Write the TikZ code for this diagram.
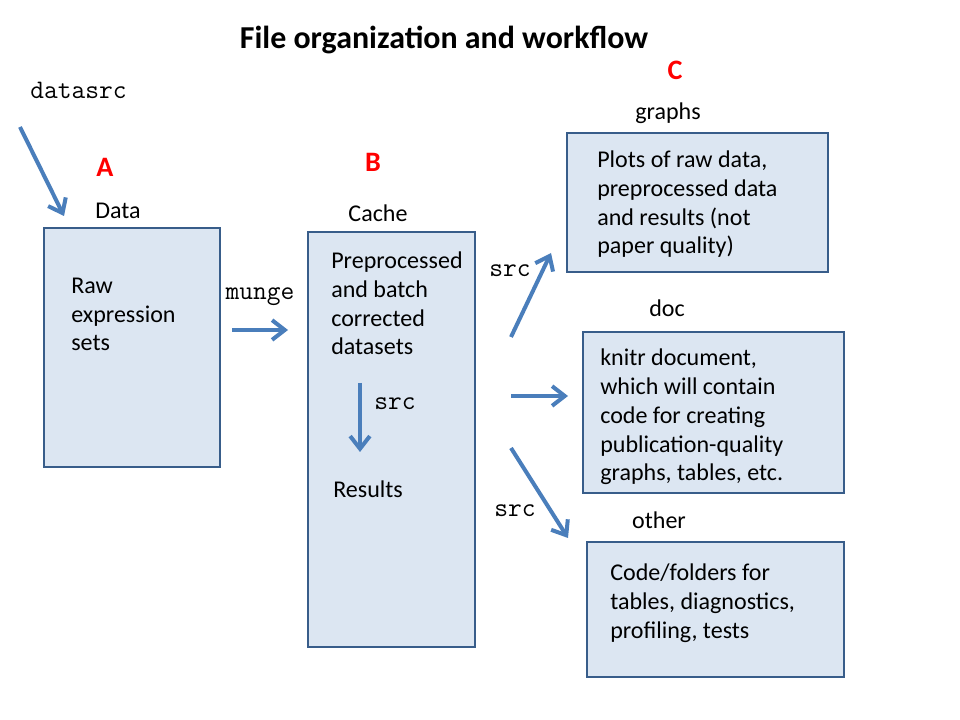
\documentclass[tikz,border=0pt]{standalone}
\usepackage{fontspec}
\setmainfont{Carlito}
\usetikzlibrary{arrows.meta}

\definecolor{boxfill}{HTML}{DCE6F2}
\definecolor{boxline}{HTML}{385D8A}
\definecolor{flowblue}{HTML}{4A7EBB}

\tikzstyle{folder}=[draw=boxline, fill=boxfill, line width=1.9pt, inner sep=0pt]
\tikzstyle{dirname}=[font=\fontsize{17.1}{20.6}\selectfont, anchor=base, inner sep=0pt]
\tikzstyle{body}=[font=\fontsize{17.1}{20.6}\selectfont, align=left, anchor=base west, inner sep=0pt]
\tikzstyle{code}=[font=\ttfamily\fontsize{19}{22}\selectfont, anchor=base, inner sep=0pt]
\tikzstyle{letter}=[font=\bfseries\fontsize{20}{24}\selectfont, text=red, anchor=base, inner sep=0pt]
\tikzstyle{flow}=[draw=flowblue, line width=2.85pt, -{Straight Barb[length=9pt, width=14pt]}]

\begin{document}
\begin{tikzpicture}[x=0.025cm, y=-0.025cm]
    \useasboundingbox (0, 0) rectangle (960, 720);
    \node[font=\bfseries\fontsize{22.7}{27}\selectfont, anchor=base] (title) at (444, 49) {File organization and workflow};

    % folders
    \node[folder, minimum width=4.4cm,   minimum height=5.975cm]  (data)   at (132, 347.5) {};
    \node[folder, minimum width=4.175cm, minimum height=10.375cm] (cache)  at (391.5, 439.5) {};
    \node[folder, minimum width=6.525cm, minimum height=3.475cm]  (graphs) at (697.5, 202.5) {};
    \node[folder, minimum width=6.525cm, minimum height=4.025cm]  (doc)    at (713.5, 412.5) {};
    \node[folder, minimum width=6.425cm, minimum height=3.375cm]  (other)  at (715.5, 609.5) {};

    \node[letter] (la) at (105, 177) {A};
    \node[letter] (lb) at (373, 172) {B};
    \node[letter] (lc) at (675, 80)  {C};

    \node[dirname] (ndata)   at (118, 219) {Data};
    \node[dirname] (ncache)  at (378, 222) {Cache};
    \node[dirname] (ngraphs) at (668, 120) {graphs};
    \node[dirname] (ndoc)    at (667, 317) {doc};
    \node[dirname] (nother)  at (659, 528) {other};

    % base anchor = last line
    \node[body] (traw)    at (71, 351)  {Raw\\expression\\sets};
    \node[body] (tcache)  at (331, 355) {Preprocessed\\and batch\\corrected\\datasets};
    \node[body] (tres)    at (333, 498) {Results};
    \node[body] (tgraphs) at (597, 254) {Plots of raw data,\\preprocessed data\\and results (not\\paper quality)};
    \node[body] (tdoc)    at (600, 481) {knitr document,\\which will contain\\code for creating\\publication-quality\\graphs, tables, etc.};
    \node[body] (tother)  at (610, 638) {Code/folders for\\tables, diagnostics,\\profiling, tests};

    \node[code, anchor=base west] (csrc) at (30, 99) {datasrc};
    \node[code] (cmunge) at (260, 300) {munge};
    \node[code, anchor=base west] (cres) at (374, 410) {src};
    \node[code] (cup)   at (510, 277) {src};
    \node[code] (cdown) at (515, 517) {src};

    % arrows
    \coordinate (a0) at (20, 127);  \coordinate (a1) at (64, 216);
    \coordinate (m0) at (232, 330); \coordinate (m1) at (288, 330);
    \coordinate (s0) at (360, 383); \coordinate (s1) at (360, 452);
    \coordinate (u0) at (511, 337); \coordinate (u1) at (551, 253);
    \coordinate (r0) at (511, 396); \coordinate (r1) at (568, 396);
    \coordinate (d0) at (511, 448); \coordinate (d1) at (568, 538);
    \draw[flow] (a0) -- (a1);
    \draw[flow] (m0) -- (m1);
    \draw[flow] (s0) -- (s1);
    \draw[flow] (u0) -- (u1);
    \draw[flow] (r0) -- (r1);
    \draw[flow] (d0) -- (d1);
\end{tikzpicture}
\end{document}
